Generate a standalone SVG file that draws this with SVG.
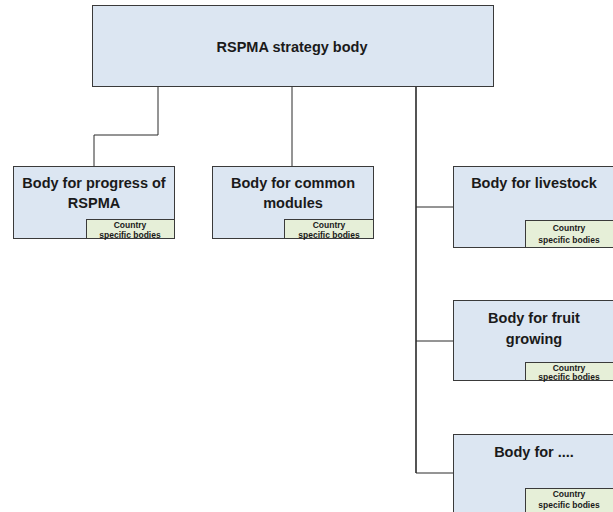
<svg xmlns="http://www.w3.org/2000/svg" width="613" height="512" viewBox="0 0 613 512">
<style>
.box{fill:#dce6f2;stroke:#3a3a3a;stroke-width:1}
.sub{fill:#e6efd8;stroke:#3a3a3a;stroke-width:1}
.t{font-family:"Liberation Sans",Arial,sans-serif;font-weight:bold;font-size:14.5px;fill:#1a1a1a;text-anchor:middle}
.s{font-family:"Liberation Sans",Arial,sans-serif;font-weight:bold;font-size:8.5px;fill:#1a1a1a;text-anchor:middle}
.c{fill:none;stroke:#2a2a2a;stroke-width:1}
</style>
<rect width="613" height="512" fill="#ffffff"/>
<g id="connectors">
<polyline class="c" points="158,86 158,135 94,135 94,166"/>
<line class="c" x1="292" y1="86" x2="292" y2="166"/>
<line class="c" x1="416" y1="86" x2="416" y2="473" style="stroke-width:1.6"/>
<line class="c" x1="416" y1="207" x2="453" y2="207"/>
<line class="c" x1="416" y1="341" x2="453" y2="341"/>
<line class="c" x1="416" y1="473" x2="453" y2="473"/>
</g>
<g id="top">
<rect class="box" x="92.5" y="5.5" width="401" height="81"/>
<text class="t" x="292" y="52">RSPMA strategy body</text>
</g>
<g id="progress">
<rect class="box" x="13.5" y="166.5" width="161" height="72"/>
<text class="t" x="94" y="188">Body for progress of</text>
<text class="t" x="94" y="208">RSPMA</text>
<rect class="sub" x="86.5" y="219.5" width="88" height="19"/>
<text class="s" x="130" y="228">Country</text>
<text class="s" x="130" y="237.5">specific bodies</text>
</g>
<g id="common">
<rect class="box" x="212.5" y="166.5" width="161" height="72"/>
<text class="t" x="293" y="188">Body for common</text>
<text class="t" x="293" y="208">modules</text>
<rect class="sub" x="284.5" y="219.5" width="89" height="19"/>
<text class="s" x="329" y="228">Country</text>
<text class="s" x="329" y="237.5">specific bodies</text>
</g>
<g id="livestock">
<rect class="box" x="453.5" y="166.5" width="162" height="81"/>
<text class="t" x="534" y="188">Body for livestock</text>
<rect class="sub" x="525.5" y="220.5" width="90" height="27"/>
<text class="s" x="569" y="231">Country</text>
<text class="s" x="569" y="243">specific bodies</text>
</g>
<g id="fruit">
<rect class="box" x="453.5" y="300.5" width="162" height="80"/>
<text class="t" x="534" y="323">Body for fruit</text>
<text class="t" x="534" y="344">growing</text>
<rect class="sub" x="525.5" y="362.5" width="90" height="18"/>
<text class="s" x="569" y="371">Country</text>
<text class="s" x="569" y="380">specific bodies</text>
</g>
<g id="other">
<rect class="box" x="453.5" y="434.5" width="162" height="90"/>
<text class="t" x="534" y="457">Body for ....</text>
<rect class="sub" x="525.5" y="488.5" width="90" height="30"/>
<text class="s" x="569" y="497">Country</text>
<text class="s" x="569" y="508">specific bodies</text>
</g>
</svg>
